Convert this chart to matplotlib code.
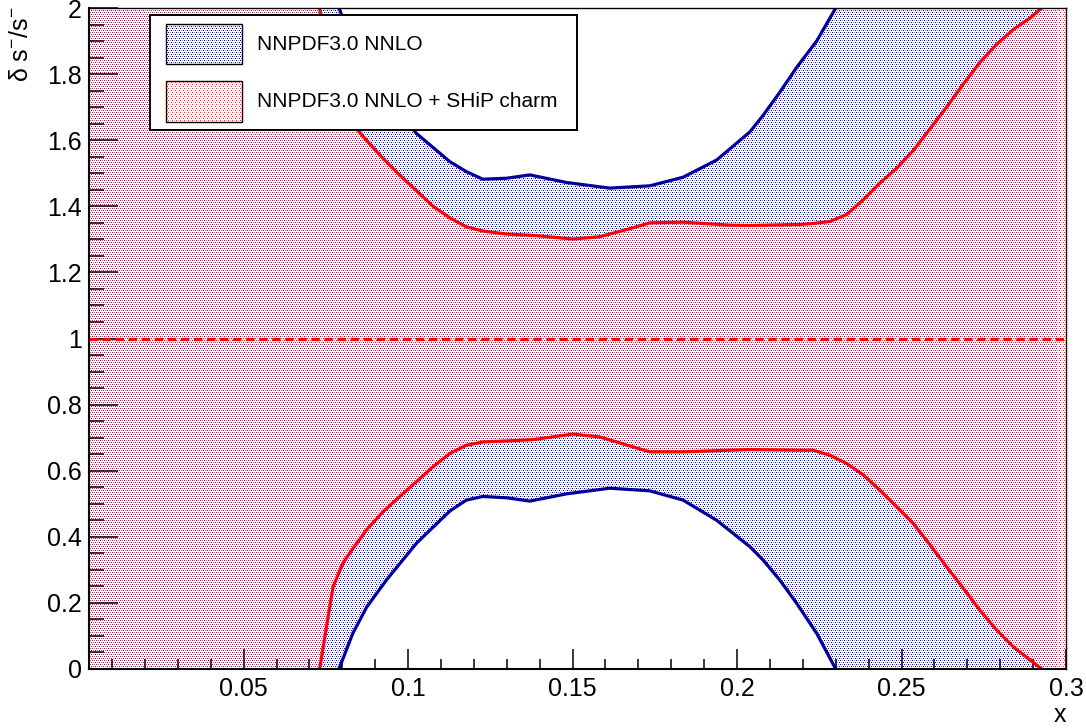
import numpy as np
import matplotlib
matplotlib.use("Agg")
import matplotlib.pyplot as plt
from matplotlib.path import Path
from matplotlib.patches import Rectangle

# ---------------- data ----------------
x_nnpdf = [0.003, 0.060, 0.0790, 0.0832, 0.0874, 0.0934, 0.1026, 0.1127, 0.1177,
           0.1227, 0.1300, 0.1370, 0.1482, 0.1613, 0.1735, 0.1836, 0.1938, 0.2039,
           0.2079, 0.2130, 0.2181, 0.2242, 0.2300, 0.2500, 0.2976]
lo_nnpdf = [-0.8, -0.3, 0.0, 0.108, 0.187, 0.269, 0.381, 0.478, 0.511,
            0.522, 0.518, 0.508, 0.530, 0.547, 0.539, 0.511, 0.450, 0.370,
            0.330, 0.269, 0.199, 0.108, 0.0, -0.3, -1.0]
hi_nnpdf = [2.8, 2.3, 2.0, 1.89, 1.813, 1.731, 1.62, 1.535, 1.505,
            1.482, 1.485, 1.495, 1.472, 1.455, 1.462, 1.488, 1.540, 1.625,
            1.675, 1.745, 1.820, 1.900, 2.0, 2.3, 3.0]

x_ship = [0.003, 0.065, 0.0731, 0.0752, 0.0772, 0.0802, 0.0822, 0.0873, 0.0924,
          0.0974, 0.1076, 0.1127, 0.1177, 0.1228, 0.1300, 0.1380, 0.1501, 0.1583,
          0.1684, 0.1735, 0.1836, 0.1978, 0.2039, 0.2191, 0.2231, 0.2282, 0.2333,
          0.2384, 0.2434, 0.2485, 0.2536, 0.2587, 0.2637, 0.2688, 0.2738, 0.2789,
          0.2840, 0.2891, 0.2926, 0.3000]
lo_ship = [-0.5, -0.2, 0.0, 0.128, 0.249, 0.320, 0.350, 0.420, 0.476,
           0.521, 0.612, 0.652, 0.677, 0.687, 0.690, 0.694, 0.711, 0.702,
           0.672, 0.657, 0.657, 0.662, 0.664, 0.662, 0.662, 0.647, 0.622,
           0.587, 0.541, 0.491, 0.440, 0.375, 0.309, 0.244, 0.178, 0.118,
           0.067, 0.027, 0.0, -0.1]
hi_ship = [2.5, 2.2, 2.0, 1.87, 1.75, 1.69, 1.66, 1.60, 1.545,
           1.495, 1.400, 1.365, 1.338, 1.325, 1.316, 1.312, 1.301, 1.308,
           1.335, 1.350, 1.352, 1.343, 1.342, 1.345, 1.348, 1.354, 1.375,
           1.420, 1.470, 1.515, 1.569, 1.635, 1.700, 1.770, 1.835, 1.890,
           1.935, 1.970, 2.0, 2.1]

ref_level = 1.0
labels = ["NNPDF3.0 NNLO", "NNPDF3.0 NNLO + SHiP charm"]
x_ticks = [0.05, 0.10, 0.15, 0.20, 0.25, 0.30]
x_ticklabels = ["0.05", "0.1", "0.15", "0.2", "0.25", "0.3"]
y_ticks = [0, 0.2, 0.4, 0.6, 0.8, 1.0, 1.2, 1.4, 1.6, 1.8, 2.0]
y_ticklabels = ["0", "0.2", "0.4", "0.6", "0.8", "1", "1.2", "1.4", "1.6", "1.8", "2"]

# ---------------- style ----------------
plt.rcParams['font.family'] = ['Liberation Sans', 'DejaVu Sans']
plt.rcParams['mathtext.fontset'] = 'custom'
plt.rcParams['mathtext.rm'] = 'Liberation Sans'
plt.rcParams['mathtext.it'] = 'Liberation Sans:italic'
plt.rcParams['lines.scale_dashes'] = False

W, H = 1086, 728
DPI = 100
fig = plt.figure(figsize=(W / DPI, H / DPI), dpi=DPI)
fig.patch.set_facecolor('white')

AX_L, AX_R, AX_T, AX_B = 89, 1066, 8, 669  # pixel box of the axes
ax = fig.add_axes([AX_L / W, 1 - AX_B / H, (AX_R - AX_L) / W, (AX_B - AX_T) / H])
ax.set_facecolor('none')
ax.set_xlim(0.003, 0.3)
ax.set_ylim(0, 2)

BLUE = (0 / 255, 0 / 255, 153 / 255)
RED = (1.0, 0.0, 0.0)

# ROOT-like sparse dot pattern: per 4x4 tile two dark and two light dots
BLUE_DARK = (0.0, 0.0, 0.65, 1.0)
BLUE_LIGHT = (0.50, 0.50, 0.88, 1.0)
RED_DARK = (1.0, 0.0, 0.0, 0.8)
RED_LIGHT = (1.0, 0.30, 0.40, 0.4)


def dot_pattern(dark, light, box=None):
    arr = np.zeros((H, W, 4))
    arr[0::4, 0::4] = dark
    arr[0::4, 2::4] = light
    arr[2::4, 1::4] = light
    arr[2::4, 3::4] = dark
    if box is not None:
        l, r, t, b = box
        mask = np.zeros((H, W), bool)
        mask[t:b, l:r] = True
        arr[~mask] = 0
    return arr


axbox = (AX_L + 1, AX_R, AX_T + 1, AX_B)


def band_path(xs, lo, hi):
    xs = np.asarray(xs); lo = np.asarray(lo); hi = np.asarray(hi)
    verts = np.vstack([np.column_stack([xs, lo]), np.column_stack([xs[::-1], hi[::-1]]),
                       [[xs[0], lo[0]]]])
    codes = [Path.MOVETO] + [Path.LINETO] * (len(verts) - 2) + [Path.CLOSEPOLY]
    return Path(verts, codes)


# blue band (dotted pattern)
p_blue = band_path(x_nnpdf, lo_nnpdf, hi_nnpdf)
im_b = fig.figimage(dot_pattern(BLUE_DARK, BLUE_LIGHT, axbox), xo=0, yo=0, zorder=-2, origin='upper')
im_b.set_clip_path(p_blue, ax.transData)
# red band (dotted pattern, drawn over the blue one)
p_red = band_path(x_ship, lo_ship, hi_ship)
im_r = fig.figimage(dot_pattern(RED_DARK, RED_LIGHT, axbox), xo=0, yo=0, zorder=-1, origin='upper')
im_r.set_clip_path(p_red, ax.transData)

# curves
lw = 2.3
ax.plot(x_nnpdf, lo_nnpdf, color=BLUE, lw=lw)
ax.plot(x_nnpdf, hi_nnpdf, color=BLUE, lw=lw)
ax.plot(x_ship, lo_ship, color=RED, lw=lw)
ax.plot(x_ship, hi_ship, color=RED, lw=lw)
ax.axhline(ref_level, color=RED, lw=2.4, dashes=(6.0, 3.4))

# axes styling (ROOT-like)
ax.set_xticks(x_ticks)
ax.set_xticklabels(x_ticklabels)
ax.set_xticks(np.arange(0.01, 0.3001, 0.01), minor=True)
ax.set_yticks(y_ticks)
ax.set_yticklabels(y_ticklabels)
ax.set_yticks(np.arange(0.05, 2.0001, 0.05), minor=True)
ax.tick_params(axis='both', which='both', direction='in', top=False, right=False,
               width=1.1, labelsize=18, color='black')
ax.tick_params(axis='x', which='major', length=14.4, pad=6)
ax.tick_params(axis='x', which='minor', length=7.2)
ax.tick_params(axis='y', which='major', length=21, pad=5)
ax.tick_params(axis='y', which='minor', length=10.5)
for s in ['left', 'bottom']:
    ax.spines[s].set_linewidth(1.5)
for s in ['top', 'right']:
    ax.spines[s].set_linewidth(1.0)

# axis titles
fig.text(AX_R / W, 1 - 703 / H, "x", ha='right', va='top', fontsize=18)
fig.text(21 / W, 1 - 6 / H, "δ s$^{-}$/s$^{-}$", rotation=90, ha='center', va='top', fontsize=18)

# ---------------- legend ----------------
LG_L, LG_T, LG_R, LG_B = 150, 15, 577, 130
axl = fig.add_axes([LG_L / W, 1 - LG_B / H, (LG_R - LG_L) / W, (LG_B - LG_T) / H], zorder=5)
axl.set_xlim(0, LG_R - LG_L)
axl.set_ylim(LG_B - LG_T, 0)
axl.set_xticks([]); axl.set_yticks([])
axl.set_facecolor('white')
for s in axl.spines.values():
    s.set_linewidth(1.4)

sw = [(16, 9, 76, 40), (16, 66, 76, 41)]
pats = [(BLUE_DARK, BLUE_LIGHT), (RED_DARK, RED_LIGHT)]
for (sx, sy, sww, shh), (dk, lt), lab in zip(sw, pats, labels):
    rect = Rectangle((sx, sy), sww, shh, facecolor='white', edgecolor='black', lw=1.0)
    axl.add_patch(rect)
    pl = LG_L + sx + 1
    pt = LG_T + sy + 1
    fig.figimage(dot_pattern(dk, lt, (pl, pl + sww - 1, pt, pt + shh - 1)),
                 xo=0, yo=0, zorder=6, origin='upper')
    axl.text(107, sy + shh / 2, lab, ha='left', va='center', fontsize=15)

fig.savefig("out.png", dpi=DPI)
